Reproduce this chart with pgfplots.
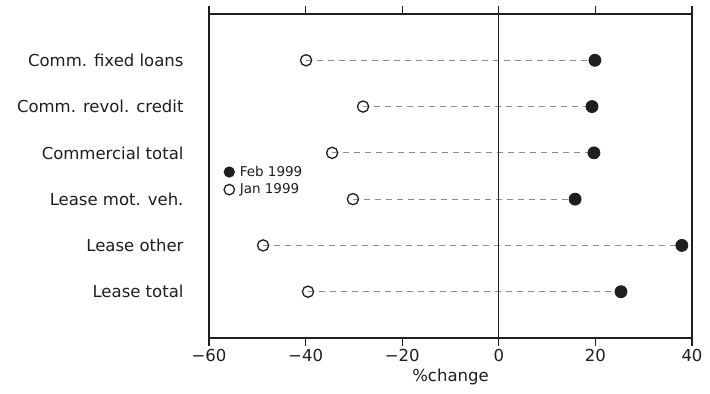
\documentclass[border=0pt]{standalone}
\usepackage{pgfplots}
\pgfplotsset{compat=1.18}
\usepackage{fontspec}
\setmainfont{DejaVu Sans}
\definecolor{ink}{HTML}{1E1E1E}
\definecolor{dashc}{HTML}{8C8C8C}
\newcommand{\lblfont}{\fontsize{16.5bp}{19bp}\selectfont}
\newcommand{\legfont}{\fontsize{13.5bp}{15bp}\selectfont}
\begin{document}
\begin{tikzpicture}
\begin{axis}[name=ax, scale only axis, width=483bp, height=324bp,
  xmin=-60, xmax=40, ymin=0, ymax=7, y dir=reverse,
  xtick={-60,-40,-20,0,20,40}, xticklabels={−60,−40,−20,0,20,40},
  ytick={1,2,3,4,5,6},
  yticklabels={Comm. fixed loans, Comm. revol. credit, Commercial total, Lease mot. veh., Lease other, Lease total},
  xtick pos=both, xticklabel pos=lower, xtick align=outside,
  major tick length=8bp,
  ytick style={draw=none},
  axis line style={ink, line width=1.2bp},
  every tick/.style={ink, line width=1.2bp},
  tick label style={font=\lblfont, text=ink},
  y tick label style={xshift=-22bp},
  xlabel={\%change}, label style={font=\lblfont, text=ink},
  clip=false,
  legend cell align=left,
  legend image code/.code={%
    \path[draw=none,fill=none] (0cm,0cm) (0.6cm,0cm);
    \draw[#1, mark size=5.2bp] plot coordinates {(0.3cm,0cm)};},
  legend style={at={(axis cs:-57.6,3.24)}, anchor=north west, draw=none, fill=none,
    font=\legfont, text=ink, row sep=2bp, inner sep=0pt},
]
% connecting dashed lines
\addplot[forget plot, dashc, line width=1.1bp, dash pattern=on 6bp off 5bp] coordinates {(-39.9,1) (19.9,1)};
\addplot[forget plot, dashc, line width=1.1bp, dash pattern=on 6bp off 5bp] coordinates {(-28.1,2) (19.3,2)};
\addplot[forget plot, dashc, line width=1.1bp, dash pattern=on 6bp off 5bp] coordinates {(-34.5,3) (19.7,3)};
\addplot[forget plot, dashc, line width=1.1bp, dash pattern=on 6bp off 5bp] coordinates {(-30.2,4) (15.8,4)};
\addplot[forget plot, dashc, line width=1.1bp, dash pattern=on 6bp off 5bp] coordinates {(-48.8,5) (37.9,5)};
\addplot[forget plot, dashc, line width=1.1bp, dash pattern=on 6bp off 5bp] coordinates {(-39.5,6) (25.3,6)};
% zero line
\addplot[forget plot, ink, line width=1.2bp] coordinates {(0,0) (0,7)};
% Feb 1999
\addplot[only marks, mark=*, mark size=6bp, mark options={fill=ink, draw=ink, line width=0.8bp}]
  coordinates {(19.9,1) (19.3,2) (19.7,3) (15.8,4) (37.9,5) (25.3,6)};
\addlegendentry{Feb 1999}
% Jan 1999
\addplot[only marks, mark=o, mark size=5.6bp, mark options={fill=white, draw=ink, line width=1.3bp}]
  coordinates {(-39.9,1) (-28.1,2) (-34.5,3) (-30.2,4) (-48.8,5) (-39.5,6)};
\addlegendentry{Jan 1999}
\end{axis}
\pgfresetboundingbox
\useasboundingbox ([xshift=-209bp,yshift=-56bp]ax.south west) rectangle ([xshift=18bp,yshift=14bp]ax.north east);
\end{tikzpicture}
\end{document}
